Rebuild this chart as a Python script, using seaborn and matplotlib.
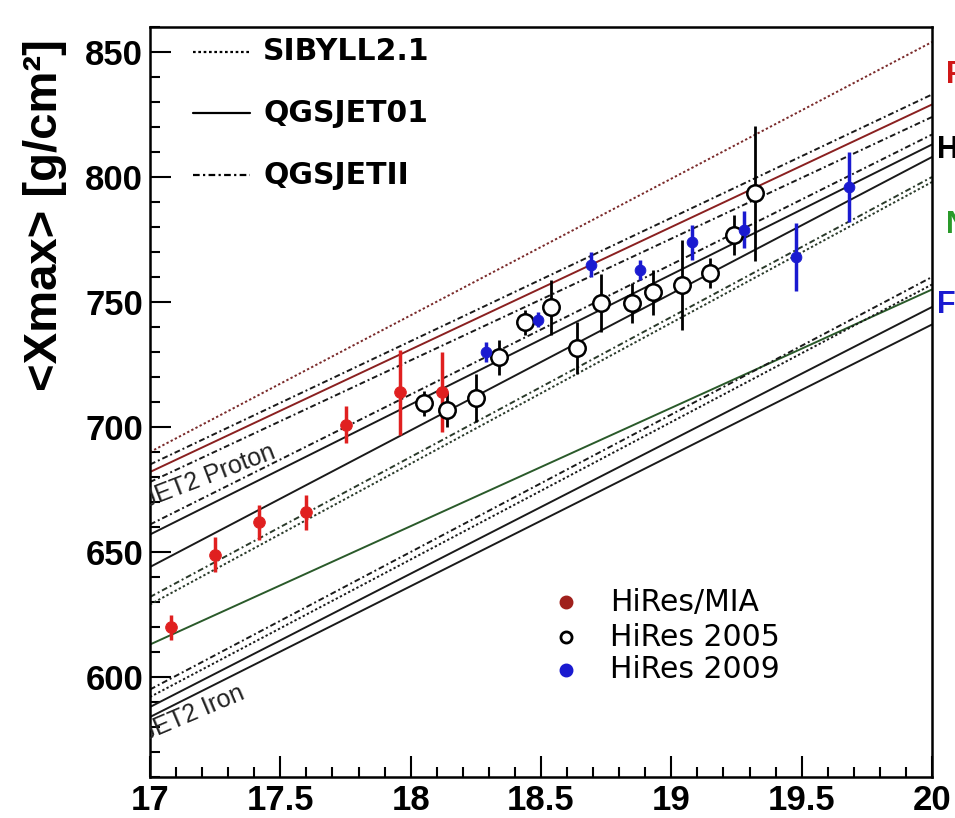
import matplotlib
matplotlib.use("Agg")
import matplotlib.pyplot as plt
from matplotlib.ticker import MultipleLocator
import pandas as pd
import seaborn as sns

# HiRes/MIA
MIA_X = [17.08, 17.25, 17.42, 17.60, 17.75, 17.96, 18.12]
MIA_Y = [620, 649, 662, 666, 701, 714, 714]
MIA_ERR = [5, 7, 7, 7, 7.5, 17, 16]

# HiRes 2005
H05_X = [18.05, 18.14, 18.25, 18.34, 18.44, 18.54, 18.64, 18.73, 18.85, 18.93, 19.04, 19.15, 19.24, 19.32]
H05_Y = [709.6, 707, 711.6, 728, 742, 748, 731.6, 749.6, 749.6, 754, 757, 761.6, 777, 793.6]
H05_ERR = [5, 7, 9.5, 7, 5, 11, 10.5, 11.6, 8, 9, 18, 6, 8, 27]

# HiRes 2009
H09_X = [18.29, 18.49, 18.69, 18.88, 19.08, 19.28, 19.48, 19.68]
H09_Y = [730, 743, 765, 763, 774, 779, 768, 796]
H09_ERR = [4, 3, 5, 4, 7, 7.5, 13.5, 14]

# model predictions: value at lg E = 17 and at lg E = 20
LINE_LEFT = [690, 685, 682, 678, 661, 657, 644, 632, 629, 613, 595, 592, 588, 584]
LINE_RIGHT = [854, 833, 829, 824, 817, 813, 808, 800, 798, 755, 760, 757, 748, 741]
LINE_MODEL = ["SIBYLL2.1", "QGSJETII", "QGSJET01", "QGSJETII", "QGSJETII", "QGSJET01",
              "QGSJET01", "QGSJETII", "SIBYLL2.1", "QGSJET01", "QGSJETII", "SIBYLL2.1",
              "QGSJET01", "QGSJET01"]
LINE_COLOR = ["#7a2a2a", "#1a1a1a", "#8a2020", "#1a1a1a", "#1a1a1a", "#1a1a1a",
              "#1a1a1a", "#2a3a2a", "#2a3a2a", "#2a5a2a", "#1a1a1a", "#1a1a1a",
              "#1a1a1a", "#1a1a1a"]

MODELS = ["SIBYLL2.1", "QGSJET01", "QGSJETII"]
DATASETS = ["HiRes/MIA", "HiRes 2005", "HiRes 2009"]
X_TICKS = [17, 17.5, 18, 18.5, 19, 19.5, 20]
X_TICK_LABELS = ["17", "17.5", "18", "18.5", "19", "19.5", "20"]
Y_TICKS = [600, 650, 700, 750, 800, 850]

STYLES = {"SIBYLL2.1": (0, (1.2, 1.2)), "QGSJET01": "-", "QGSJETII": (0, (3, 1.5, 1, 1.5))}

sns.set_style("ticks")
plt.rcParams["font.family"] = ["Liberation Sans", "DejaVu Sans"]
plt.rcParams.update({"text.color": "black", "xtick.color": "black", "ytick.color": "black",
                     "axes.labelcolor": "black", "axes.edgecolor": "black"})

W, H = 955, 818
L, R, T, B = 150, 932, 27, 777

fig = plt.figure(figsize=(W / 100, H / 100), dpi=100)
ax = fig.add_axes([L / W, 1 - B / H, (R - L) / W, (B - T) / H])


def ax_frac(px, py):
    return (px - L) / (R - L), (B - py) / (B - T)


for left, right, model, color in zip(LINE_LEFT, LINE_RIGHT, LINE_MODEL, LINE_COLOR):
    df = pd.DataFrame({"x": [17, 20], "y": [left, right]})
    sns.lineplot(data=df, x="x", y="y", ax=ax, color=color, lw=1.4,
                 linestyle=STYLES[model], legend=False)

# data points
ax.errorbar(MIA_X, MIA_Y, yerr=MIA_ERR, fmt="none", ecolor="#e02020", elinewidth=2.5, zorder=4)
ax.errorbar(H05_X, H05_Y, yerr=H05_ERR, fmt="none", ecolor="black", elinewidth=2, zorder=4)
ax.errorbar(H09_X, H09_Y, yerr=H09_ERR, fmt="none", ecolor="#1a1ad0", elinewidth=2.5, zorder=4)
sns.scatterplot(x=MIA_X, y=MIA_Y, ax=ax, color="#e02020", s=70, edgecolor="#e02020", zorder=5)
sns.scatterplot(x=H05_X, y=H05_Y, ax=ax, facecolor="white", edgecolor="black", linewidth=1.8,
                s=140, zorder=5)
sns.scatterplot(x=H09_X, y=H09_Y, ax=ax, color="#1a1ad0", s=60, edgecolor="#1a1ad0", zorder=5)

# slanted labels on the curves, cut by the frame
ax.text(16.79, 660, "QGSJET2 Proton", rotation=21, fontsize=18, ha="left", va="baseline",
        color="#222222", clip_on=True, rotation_mode="anchor")
ax.text(16.79, 566, "QGSJET2 Iron", rotation=23, fontsize=18, ha="left", va="baseline",
        color="#222222", clip_on=True, rotation_mode="anchor")

# model legend
for (label, py) in zip(MODELS, [52, 113, 175]):
    x0, y0 = ax_frac(193, py)
    x1, _ = ax_frac(250, py)
    ax.plot([x0, x1], [y0, y0], transform=ax.transAxes, color="black", lw=1.6,
            linestyle=STYLES[label])
    xt, _ = ax_frac(263, py)
    ax.text(xt, y0, label, transform=ax.transAxes, fontsize=21.5, fontweight="bold",
            family="DejaVu Sans", va="center", ha="left")

# data legend
for label, py, face, edge in zip(DATASETS, [602, 637, 670],
                                 ["#a0201c", "white", "#1a1ad0"],
                                 ["#a0201c", "black", "#1a1ad0"]):
    xm, ym = ax_frac(566, py)
    ax.plot([xm], [ym], transform=ax.transAxes, marker="o", ms=8, mfc=face, mec=edge, mew=2,
            ls="none")
    xt, _ = ax_frac(610, py)
    ax.text(xt, ym, label, transform=ax.transAxes, fontsize=21.5, family="DejaVu Sans",
            va="center", ha="left")

ax.set_xlim(17, 20)
ax.set_ylim(560, 860)
ax.set_xticks(X_TICKS)
ax.set_xticklabels(X_TICK_LABELS)
ax.set_yticks(Y_TICKS)
ax.xaxis.set_minor_locator(MultipleLocator(0.1))
ax.yaxis.set_minor_locator(MultipleLocator(10))
ax.tick_params(which="both", direction="in", top=False, right=False, width=1.5)
ax.tick_params(which="major", length=15, labelsize=25, pad=5)
ax.tick_params(which="minor", length=7)
for lab in ax.get_xticklabels() + ax.get_yticklabels():
    lab.set_fontweight("bold")
ax.set_xlabel("")
ax.set_ylabel("")
for sp in ax.spines.values():
    sp.set_visible(True)
    sp.set_linewidth(1.8)
    sp.set_color("black")

fig.text(45 / W, 1 - 215 / H, "<Xmax> [g/cm²]", rotation=90, fontsize=34, fontweight="bold",
         ha="center", va="center")

# composition labels cut at the right edge
for label, px, py, color in zip(["P", "He", "N", "Fe"], [946, 937, 946, 937], [75, 150, 225, 305],
                                ["#d01818", "black", "#2a9a2a", "#1a1ad0"]):
    fig.text(px / W, 1 - py / H, label, fontsize=22, fontweight="bold", color=color,
             ha="left", va="center")

fig.savefig("out.png", dpi=100)
